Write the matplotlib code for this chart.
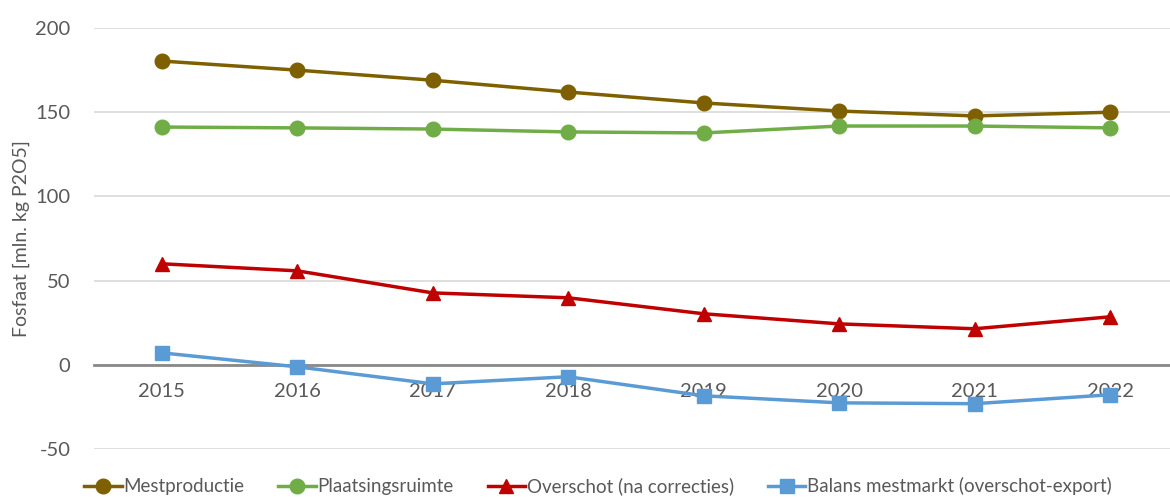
import matplotlib.pyplot as plt

plt.rcParams['font.family'] = ['Lato', 'DejaVu Sans']
plt.rcParams['axes.unicode_minus'] = False

jaren = ['2015', '2016', '2017', '2018', '2019', '2020', '2021', '2022']
mestproductie = [180.4, 175.0, 169.0, 162.0, 155.5, 150.7, 147.8, 150.0]
plaatsingsruimte = [141.2, 140.7, 140.0, 138.3, 137.7, 141.8, 141.8, 140.7]
overschot = [60.0, 55.8, 42.7, 39.8, 30.3, 24.3, 21.4, 28.5]
balans = [7.1, -1.2, -11.3, -7.1, -18.4, -22.6, -23.1, -17.8]

fig = plt.figure(figsize=(11.7, 4.97), dpi=100)
ax = fig.add_axes([0.0803, 0.0966, 0.9265, 0.847])

x = range(len(jaren))
ax.plot(x, mestproductie, color='#7F6000', lw=2.5, marker='o', ms=10.5, label='Mestproductie')
ax.plot(x, plaatsingsruimte, color='#70AD47', lw=2.5, marker='o', ms=10.5, label='Plaatsingsruimte')
ax.plot(x, overschot, color='#C00000', lw=2.5, marker='^', ms=10.5, label='Overschot (na correcties)')
ax.plot(x, balans, color='#5B9BD5', lw=2.5, marker='s', ms=9.5, label='Balans mestmarkt (overschot-export)')

ax.set_xlim(-0.5, 7.5)
ax.set_ylim(-50, 200)
ax.set_yticks([-50, 0, 50, 100, 150, 200])
ax.set_xticks(list(x))
ax.set_xticklabels(jaren)
ax.grid(axis='y', color='#D9D9D9', lw=1.2)
ax.set_axisbelow(True)

for s in ['top', 'right', 'left']:
    ax.spines[s].set_visible(False)
ax.spines['bottom'].set_position(('data', 0))
ax.spines['bottom'].set_color('#898989')
ax.spines['bottom'].set_linewidth(2)
ax.spines['bottom'].set_zorder(1)

ax.tick_params(axis='both', length=0, labelsize=14.5, labelcolor='#595959')
ax.tick_params(axis='y', pad=17)
ax.tick_params(axis='x', pad=13)

ax.set_ylabel('Fosfaat [mln. kg P2O5]', fontsize=14, color='#595959', labelpad=4)

ax.legend(loc='lower center', bbox_to_anchor=(0.465, -0.128), ncol=4, frameon=False,
          fontsize=13.5, labelcolor='#595959', handlelength=2.0, handletextpad=0.1,
          columnspacing=1.8, borderaxespad=0)

fig.savefig('out.png', dpi=100)
